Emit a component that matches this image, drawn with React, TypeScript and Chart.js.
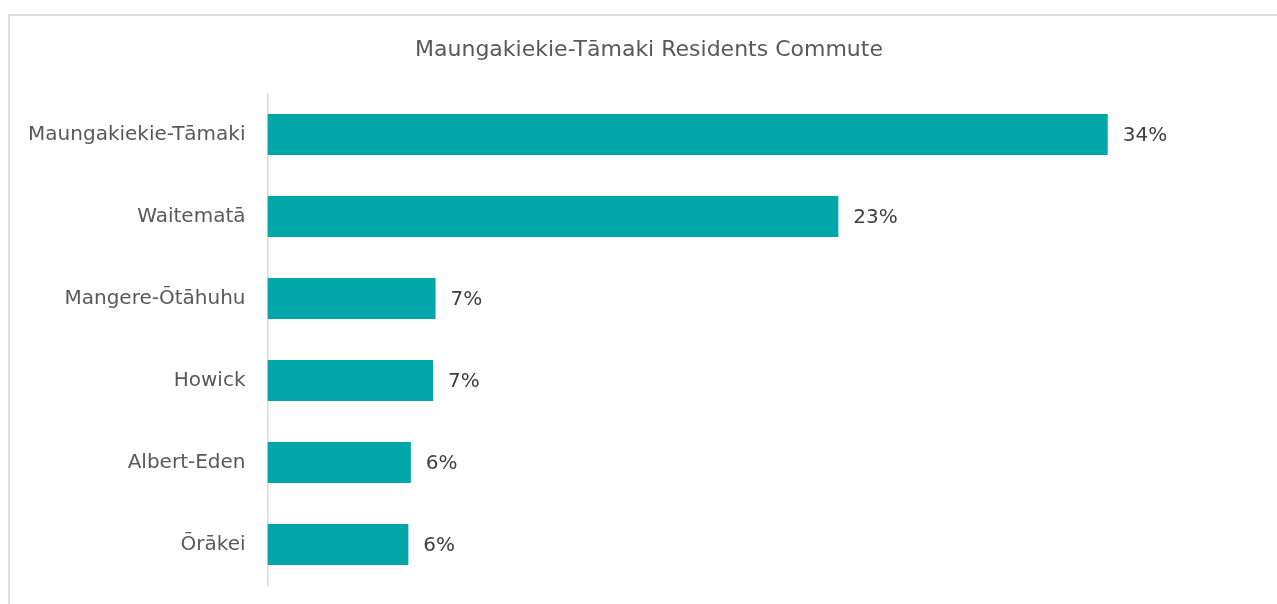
import React, { useEffect, useRef } from "react";
import { Chart, registerables } from "chart.js";

Chart.register(...registerables);

const categories = [
  "Maungakiekie-Tāmaki",
  "Waitematā",
  "Mangere-Ōtāhuhu",
  "Howick",
  "Albert-Eden",
  "Ōrākei",
];
const shares = [34.0, 23.1, 6.8, 6.7, 5.8, 5.7];
const titleText = "Maungakiekie-Tāmaki Residents Commute";
const axisMax = 41.7;

const FONT = "'DejaVu Sans', sans-serif";

const valueLabels = {
  id: "valueLabels",
  afterDatasetsDraw(chart: any) {
    const ctx = chart.ctx;
    const meta = chart.getDatasetMeta(0);
    const data = chart.data.datasets[0].data as number[];
    ctx.save();
    ctx.font = `20px ${FONT}`;
    ctx.fillStyle = "#404040";
    ctx.textAlign = "left";
    ctx.textBaseline = "middle";
    meta.data.forEach((bar: any, i: number) => {
      ctx.fillText(`${Math.round(data[i])}%`, bar.x + 15, bar.y + 1);
    });
    ctx.restore();
  },
};

export default function App() {
  const ref = useRef<HTMLCanvasElement | null>(null);

  useEffect(() => {
    if (!ref.current) return;
    const chart = new Chart(ref.current, {
      type: "bar",
      data: {
        labels: categories,
        datasets: [
          {
            data: shares,
            backgroundColor: "#00A6A8",
            borderWidth: 0,
            categoryPercentage: 1,
            barPercentage: 0.5,
          },
        ],
      },
      options: {
        indexAxis: "y",
        animation: false,
        responsive: false,
        devicePixelRatio: 1,
        layout: { padding: { left: 0, right: 0, top: 0, bottom: 18.5 } },
        plugins: {
          legend: { display: false },
          tooltip: { enabled: false },
          title: {
            display: true,
            text: titleText,
            color: "#595959",
            font: { family: FONT, size: 22, weight: "normal" as any, lineHeight: 1.2 },
            padding: { top: 37, bottom: 30 },
          },
        },
        scales: {
          x: { display: false, min: 0, max: axisMax },
          y: {
            afterFit(scale: any) {
              scale.width = 267.5;
              scale.paddingTop = 0;
              scale.paddingBottom = 0;
            },
            grid: { display: false, drawTicks: false },
            border: { display: true, color: "#d9d9d9", width: 1.5 },
            ticks: {
              color: "#595959",
              padding: 22,
              font: { family: FONT, size: 20 },
            },
          },
        },
      },
      plugins: [valueLabels],
    });
    return () => chart.destroy();
  }, []);

  return (
    <div
      style={{
        position: "fixed",
        left: 0,
        top: 0,
        width: 1277,
        height: 604,
        overflow: "hidden",
        background: "#fff",
      }}
    >
      <div
        style={{
          position: "absolute",
          left: 8,
          top: 14,
          width: 1300,
          height: 620,
          borderTop: "2px solid #dcdcdc",
          borderLeft: "2px solid #dcdcdc",
        }}
      />
      <canvas
        ref={ref}
        width={1298}
        height={604}
        style={{ position: "absolute", left: 0, top: 0, width: 1298, height: 604 }}
      />
    </div>
  );
}
